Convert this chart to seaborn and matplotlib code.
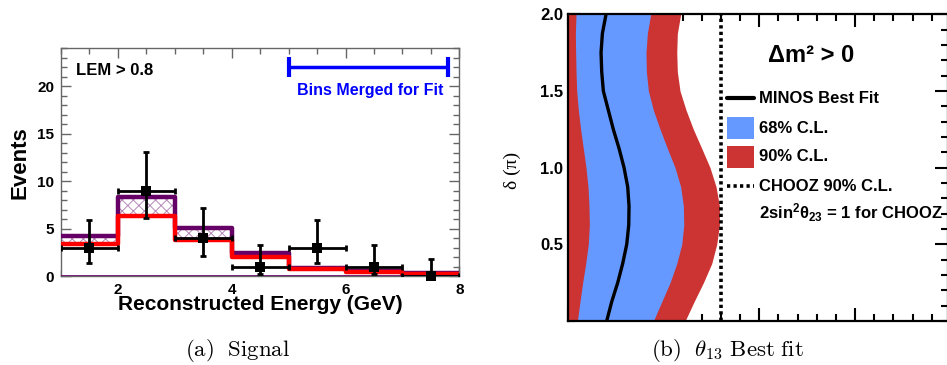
import matplotlib
matplotlib.use("Agg")
import matplotlib.pyplot as plt
import numpy as np
import pandas as pd
import seaborn as sns
from matplotlib.patches import Rectangle
from matplotlib.ticker import MultipleLocator, FormatStrFormatter

sns.set_theme(style="ticks")
plt.rcParams["font.family"] = ["Liberation Sans", "DejaVu Sans"]
plt.rcParams["font.weight"] = "bold"
plt.rcParams["text.color"] = "black"
plt.rcParams["axes.labelcolor"] = "black"
plt.rcParams["xtick.labelcolor"] = "black"
plt.rcParams["ytick.labelcolor"] = "black"
plt.rcParams["mathtext.fontset"] = "custom"
plt.rcParams["mathtext.rm"] = "Liberation Sans:bold"
plt.rcParams["mathtext.it"] = "Liberation Sans:bold"
plt.rcParams["mathtext.bf"] = "Liberation Sans:bold"
plt.rcParams["hatch.linewidth"] = 0.7

# ---------------- (a) signal: nu_e candidates vs reconstructed energy ----------------
bin_edges = [1, 2, 3, 4, 5, 6, 7, 8]
bin_centers = [1.5, 2.5, 3.5, 4.5, 5.5, 6.5, 7.5]
background = [3.35, 6.35, 3.8, 2.05, 0.7, 0.45, 0.25]
signal_plus_background = [4.2, 8.35, 5.1, 2.45, 0.8, 0.55, 0.3]
observed = [3, 9, 4, 1, 3, 1, 0]
observed_low = [1.4, 6.1, 2.1, 0.2, 1.4, 0.2, 0.0]
observed_high = [5.9, 13.1, 7.2, 3.3, 5.9, 3.3, 1.8]
merged_bins = [5.0, 7.8]

# ---------------- (b) theta13 best fit vs delta_CP ----------------
delta_cp = [2.0, 1.875, 1.75, 1.625, 1.5, 1.375, 1.25, 1.125, 1.0,
            0.875, 0.75, 0.625, 0.5, 0.375, 0.25, 0.125, 0.0]
best_fit = [0.0402, 0.0364, 0.0350, 0.0357, 0.0374, 0.0426, 0.0478, 0.0538, 0.0590,
            0.0628, 0.0642, 0.0639, 0.0618, 0.0576, 0.0524, 0.0461, 0.0409]
cl68_low = [0.0089, 0.0082, 0.0085, 0.0089, 0.0096, 0.0113, 0.0137, 0.0165, 0.0193,
            0.0214, 0.0224, 0.0228, 0.0217, 0.0190, 0.0158, 0.0130, 0.0103]
cl68_high = [0.0868, 0.0833, 0.0819, 0.0823, 0.0844, 0.0896, 0.0966, 0.1042, 0.1122,
             0.1181, 0.1209, 0.1213, 0.1192, 0.1140, 0.1070, 0.0983, 0.0896]
cl90_high = [0.1181, 0.1146, 0.1140, 0.1146, 0.1174, 0.1237, 0.1313, 0.1401, 0.1487,
             0.1550, 0.1585, 0.1585, 0.1557, 0.1505, 0.1418, 0.1320, 0.1227]
chooz_limit = 0.16

PURPLE = "#660066"
HATCH = "#b58ab8"
RED = "#ff0000"
BLUE68 = "#6699ff"
RED90 = "#cc3333"
FRAME_GREY = "#666666"

W, H = 947, 365
fig = plt.figure(figsize=(W / 100, H / 100), dpi=100)
fig.patch.set_facecolor("white")

# ---------- left panel ----------
ax1 = fig.add_axes([61 / W, (H - 276) / H, (459.3 - 61) / W, (276 - 48.3) / H])
ax1.set_facecolor("white")

sns.histplot(x=bin_centers, weights=signal_plus_background, bins=bin_edges,
             element="step", fill=True, color="white", alpha=1,
             edgecolor=HATCH, linewidth=0, hatch="xxx", ax=ax1, zorder=1)
sns.histplot(x=bin_centers, weights=background, bins=bin_edges,
             element="step", fill=True, color="white", alpha=1,
             edgecolor="white", linewidth=0, ax=ax1, zorder=2)
sns.histplot(x=bin_centers, weights=signal_plus_background, bins=bin_edges,
             element="step", fill=False, color=PURPLE, linewidth=3.2, ax=ax1, zorder=3)
sns.histplot(x=bin_centers, weights=background, bins=bin_edges,
             element="step", fill=False, color=RED, linewidth=3.2, ax=ax1, zorder=4)
ax1.axhline(0, color=PURPLE, lw=1.2, zorder=4)

obs = np.array(observed, dtype=float)
yerr = [obs - np.array(observed_low), np.array(observed_high) - obs]
ax1.errorbar(bin_centers, observed, xerr=0.5, yerr=yerr, fmt="none",
             ecolor="black", elinewidth=2, capsize=2.5, capthick=2, zorder=5)
sns.scatterplot(x=bin_centers, y=observed, marker="s", s=45, color="black",
                edgecolor="black", linewidth=0, ax=ax1, zorder=6, clip_on=False)

mid = 0.5 * (merged_bins[0] + merged_bins[1])
half = 0.5 * (merged_bins[1] - merged_bins[0])
ax1.errorbar([mid], [22.0], xerr=half, fmt="none", ecolor="#0000ff",
             elinewidth=2.5, capsize=7, capthick=3, zorder=5)
ax1.text(6.44, 19.6, "Bins Merged for Fit", color="#0000ff", fontsize=11.5,
         fontweight="bold", ha="center", va="center")
ax1.text(1.27, 21.7, "LEM > 0.8", color="black", fontsize=12,
         fontweight="bold", ha="left", va="center")

ax1.set_xlim(1, 8)
ax1.set_ylim(0, 24)
ax1.set_xticks([2, 4, 6, 8])
ax1.xaxis.set_minor_locator(MultipleLocator(0.5))
ax1.set_yticks([0, 5, 10, 15, 20])
ax1.yaxis.set_minor_locator(MultipleLocator(1))
ax1.tick_params(which="both", direction="in", top=True, right=True,
                color=FRAME_GREY, width=1, labelsize=11, pad=5, labelcolor="black")
ax1.tick_params(which="major", length=7.5)
ax1.tick_params(which="minor", length=4)
for lab in ax1.get_xticklabels() + ax1.get_yticklabels():
    lab.set_fontweight("bold")
for sp in ax1.spines.values():
    sp.set_color(FRAME_GREY)
    sp.set_linewidth(1)
ax1.set_xlabel("Reconstructed Energy (GeV)", fontsize=15, fontweight="bold", color="black")
ax1.set_ylabel("Events", fontsize=16, fontweight="bold", color="black")
ax1.xaxis.set_label_coords(0.5, -0.127)
ax1.xaxis.label.set_verticalalignment("center")
ax1.yaxis.set_label_coords(-0.103, 0.5)
ax1.yaxis.label.set_verticalalignment("center")

# ---------- right panel ----------
ax2 = fig.add_axes([567.5 / W, (H - 321) / H, (948 - 567.5) / W, (321 - 14.3) / H])
ax2.set_facecolor("white")
ax2.fill_betweenx(delta_cp, 0, cl90_high, color=RED90, lw=0, zorder=1)
ax2.fill_betweenx(delta_cp, cl68_low, cl68_high, color=BLUE68, lw=0, zorder=2)
fit_df = pd.DataFrame({"delta": delta_cp, "theta13": best_fit})
sns.lineplot(data=fit_df, x="theta13", y="delta", sort=False, estimator=None,
             color="black", lw=2.4, ax=ax2, zorder=3)
ax2.axvline(chooz_limit, color="black", lw=2.6, ls=(0, (0.9, 0.9)), zorder=3)

ax2.set_xlim(0, 0.397)
ax2.set_ylim(0, 2.0)
ax2.xaxis.set_major_locator(MultipleLocator(0.1))
ax2.xaxis.set_minor_locator(MultipleLocator(0.02))
ax2.set_yticks([0.5, 1.0, 1.5, 2.0])
ax2.yaxis.set_major_formatter(FormatStrFormatter("%.1f"))
ax2.yaxis.set_minor_locator(MultipleLocator(0.1))
ax2.tick_params(which="both", direction="in", top=True, right=True,
                color="black", width=1.5, labelsize=12, pad=3,
                labelbottom=False, labelcolor="black")
ax2.tick_params(which="major", length=9.5)
ax2.tick_params(which="minor", length=5)
for lab in ax2.get_yticklabels():
    lab.set_fontweight("bold")
for sp in ax2.spines.values():
    sp.set_color("black")
    sp.set_linewidth(1.6)
    sp.set_zorder(4)
ax2.set_xlabel("")
ax2.set_ylabel("δ (π)", fontsize=14, fontweight="normal", color="black",
               family=["Liberation Serif", "DejaVu Serif"])
ax2.yaxis.set_label_coords(-0.146, 0.49)
ax2.yaxis.label.set_verticalalignment("center")

T = ax2.transAxes
ax2.text(0.527, 0.867, "Δm² > 0", transform=T, fontsize=17,
         fontweight="bold", ha="left", va="center")
hx0, hx1, tx = 0.418, 0.490, 0.503
rows = [0.727, 0.629, 0.535, 0.440, 0.352]
ax2.plot([hx0, hx1], [rows[0]] * 2, transform=T, color="black", lw=3, clip_on=False)
ax2.add_patch(Rectangle((hx0, rows[1] - 0.035), hx1 - hx0, 0.07, transform=T,
                        facecolor=BLUE68, edgecolor="none"))
ax2.add_patch(Rectangle((hx0, rows[2] - 0.035), hx1 - hx0, 0.07, transform=T,
                        facecolor=RED90, edgecolor="none"))
ax2.plot([hx0, hx1], [rows[3]] * 2, transform=T, color="black", lw=2.6,
         ls=(0, (0.9, 0.9)))
labels = ["MINOS Best Fit", "68% C.L.", "90% C.L.", "CHOOZ 90% C.L.",
          r"2sin$^{2}\theta_{23}$ = 1 for CHOOZ"]
for r, lab in zip(rows, labels):
    ax2.text(tx, r, lab, transform=T, fontsize=12, fontweight="bold",
             ha="left", va="center")

# ---------- captions ----------
fig.text(237.7 / W, 1 - 351 / H, r"$\mathrm{(a)\ \ Signal}$", math_fontfamily="cm",
         fontsize=16.5, ha="center", va="center")
fig.text(727.7 / W, 1 - 351 / H, r"$\mathrm{(b)}\ \ \theta_{13}\ \mathrm{Best\ fit}$",
         math_fontfamily="cm", fontsize=16.5, ha="center", va="center")

fig.savefig("out.png", dpi=100, facecolor="white")
